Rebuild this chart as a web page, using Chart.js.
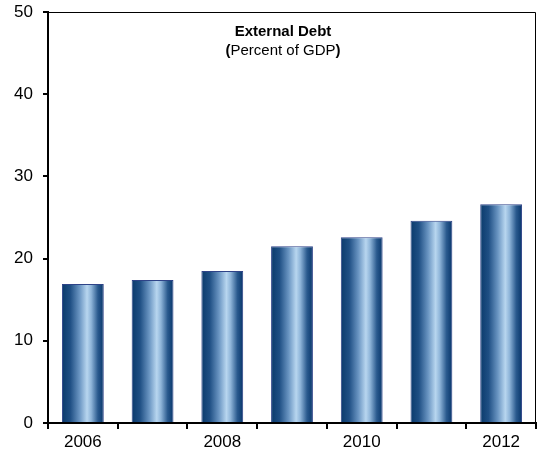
<!DOCTYPE html>
<html>
<head>
<meta charset="utf-8">
<script src="https://cdn.jsdelivr.net/npm/chart.js@4/dist/chart.umd.min.js"></script>
<style>
    body { margin: 0; background: #fff; }
    #wrap { width: 538px; height: 459px; position: relative; }
</style>
</head>
<body>
<div id="wrap"><canvas id="debtChart"></canvas></div>
<script>
const years = ["2006", "2007", "2008", "2009", "2010", "2011", "2012"];
const debtPct = [16.9, 17.4, 18.5, 21.5, 22.6, 24.6, 26.6];
const shownYears = ["2006", "2008", "2010", "2012"];
const titleLines = ["External Debt", "(Percent of GDP)"];

const FONT = "'Liberation Sans', Arial, sans-serif";

// cylinder look: horizontal gradient across each bar
function barGradient(context) {
    const chart = context.chart;
    const xs = chart.scales.x;
    if (!xs || !chart.chartArea) return '#2a5a8c';
    const center = xs.getPixelForValue(context.dataIndex);
    const half = (xs.width / years.length) * 0.6 / 2;
    const g = chart.ctx.createLinearGradient(center - half, 0, center + half, 0);
    g.addColorStop(0, '#0a3a6c');
    g.addColorStop(0.2, '#1f4f84');
    g.addColorStop(0.42, '#6a95c2');
    g.addColorStop(0.6, '#b8d6ef');
    g.addColorStop(0.7, '#8fb5d9');
    g.addColorStop(0.86, '#2a5a8e');
    g.addColorStop(1, '#07356a');
    return g;
}

// thin frame on top and right, title inside the plot
const framePlugin = {
    id: 'frame',
    afterDraw(chart) {
        const ctx = chart.ctx;
        const a = chart.chartArea;
        ctx.save();
        ctx.strokeStyle = '#000';
        ctx.lineWidth = 1;
        ctx.beginPath();
        ctx.moveTo(a.left, a.top + 0.5);
        ctx.lineTo(a.right - 0.5, a.top + 0.5);
        ctx.lineTo(a.right - 0.5, a.bottom);
        ctx.stroke();

        const cx = (a.left + a.right) / 2 - 9;
        ctx.fillStyle = '#000';
        ctx.textAlign = 'center';
        ctx.textBaseline = 'alphabetic';
        ctx.font = "bold 15px " + FONT;
        ctx.fillText(titleLines[0], cx, a.top + 24);

        // second line: bold parentheses around regular text
        const inner = titleLines[1].slice(1, -1);
        ctx.font = "15px " + FONT;
        const wInner = ctx.measureText(inner).width;
        ctx.font = "bold 15px " + FONT;
        const wPar = ctx.measureText("(").width;
        const total = wInner + 2 * wPar;
        let x = cx - total / 2;
        const y = a.top + 43;
        ctx.textAlign = 'left';
        ctx.fillText("(", x, y);
        x += wPar;
        ctx.font = "15px " + FONT;
        ctx.fillText(inner, x, y);
        x += wInner;
        ctx.font = "bold 15px " + FONT;
        ctx.fillText(")", x, y);
        ctx.restore();
    }
};

new Chart(document.getElementById('debtChart'), {
    type: 'bar',
    data: {
        labels: years,
        datasets: [{
            label: 'External Debt',
            data: debtPct,
            backgroundColor: barGradient,
            borderColor: '#2e4388',
            borderWidth: 1,
            barPercentage: 0.6,
            categoryPercentage: 1.0
        }]
    },
    options: {
        responsive: true,
        maintainAspectRatio: false,
        animation: false,
        layout: { padding: { top: 12, right: 2, left: 0, bottom: 0 } },
        plugins: {
            legend: { display: false },
            tooltip: { enabled: false }
        },
        scales: {
            x: {
                offset: true,
                border: { color: '#000', width: 2 },
                grid: {
                    offset: true,
                    drawOnChartArea: false,
                    color: '#000',
                    lineWidth: 2,
                    tickLength: 6
                },
                ticks: {
                    autoSkip: false,
                    maxRotation: 0,
                    padding: 3,
                    color: '#000',
                    font: { family: FONT, size: 17 },
                    callback: function(value, index) {
                        const lbl = years[index];
                        return shownYears.includes(lbl) ? lbl : '';
                    }
                },
                afterFit(scale) {
                    scale.height = 36;
                    scale.paddingLeft = 0;
                    scale.paddingRight = 0;
                }
            },
            y: {
                min: 0,
                max: 50,
                border: { color: '#000', width: 2 },
                grid: {
                    drawOnChartArea: false,
                    color: '#000',
                    lineWidth: 2,
                    tickLength: 5
                },
                ticks: {
                    stepSize: 10,
                    padding: 10,
                    color: '#000',
                    font: { family: FONT, size: 17 }
                },
                afterFit(scale) {
                    scale.width = 48;
                    scale.paddingTop = 0;
                    scale.paddingBottom = 0;
                }
            }
        }
    },
    plugins: [framePlugin]
});
</script>
</body>
</html>
